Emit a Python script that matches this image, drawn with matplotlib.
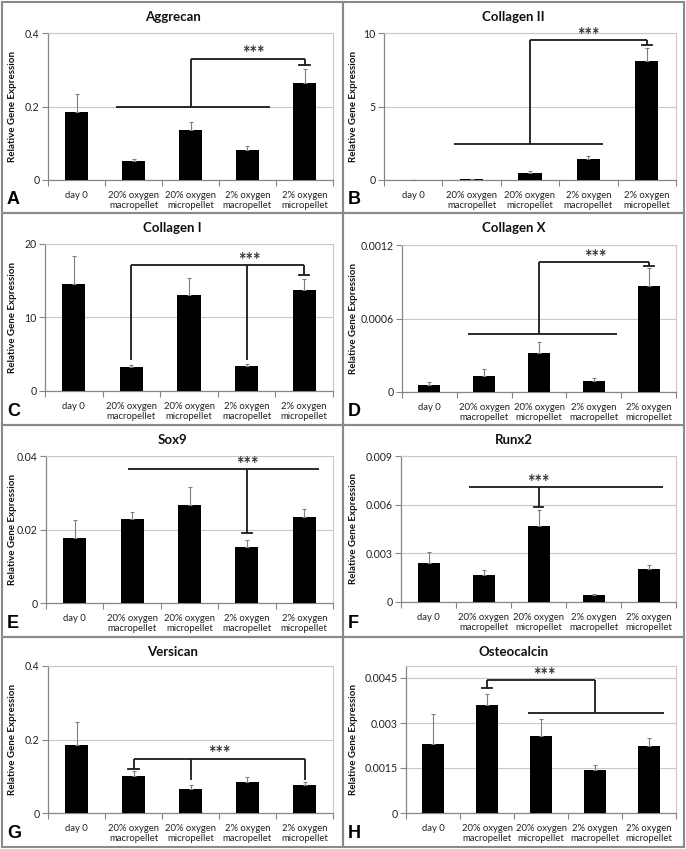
import matplotlib
matplotlib.use("Agg")
import matplotlib.pyplot as plt
from matplotlib.patches import Rectangle

plt.rcParams['font.family'] = ['Lato', 'DejaVu Sans']

W, H = 686, 849

categories = ["day 0", "20% oxygen\nmacropellet", "20% oxygen\nmicropellet",
              "2% oxygen\nmacropellet", "2% oxygen\nmicropellet"]

# gene expression means and upper error values
aggrecan = [0.184, 0.051, 0.135, 0.082, 0.263]
aggrecan_err = [0.050, 0.005, 0.022, 0.011, 0.040]
collagen2 = [0.01, 0.05, 0.45, 1.40, 8.10]
collagen2_err = [0.0, 0.0, 0.15, 0.20, 0.90]
collagen1 = [14.6, 3.27, 13.1, 3.36, 13.7]
collagen1_err = [3.7, 0.23, 2.3, 0.34, 1.6]
collagen10 = [0.00006, 0.000128, 0.00032, 0.00009, 0.000863]
collagen10_err = [0.00002, 0.000059, 0.000087, 0.000024, 0.000147]
sox9 = [0.0178, 0.0229, 0.0268, 0.0153, 0.0233]
sox9_err = [0.0049, 0.0018, 0.0049, 0.0019, 0.0024]
runx2 = [0.00243, 0.00164, 0.0047, 0.00043, 0.00203]
runx2_err = [0.00066, 0.00034, 0.00097, 0.00006, 0.00026]
versican = [0.185, 0.102, 0.065, 0.085, 0.075]
versican_err = [0.062, 0.012, 0.012, 0.014, 0.009]
osteocalcin = [0.0023, 0.00361, 0.00258, 0.00145, 0.00222]
osteocalcin_err = [0.0010, 0.00036, 0.00057, 0.00016, 0.00028]

# significance brackets: line segments (x0, y0, x1, y1), caps (x, y), star position
panels = [
    dict(title="Aggrecan", letter="A", vals=aggrecan, err=aggrecan_err,
         ylim=0.4, ticks=[0, 0.2, 0.4], labels=["0", "0.2", "0.4"],
         box=(48, 33, 333, 180),
         lines=[(0.7, 0.198, 3.4, 0.198), (2, 0.198, 2, 0.33), (2, 0.33, 4, 0.33), (4, 0.33, 4, 0.312)],
         caps=[(4, 0.312)], star=(3.1, 0.33)),
    dict(title="Collagen II", letter="B", vals=collagen2, err=collagen2_err,
         ylim=10, ticks=[0, 5, 10], labels=["0", "5", "10"],
         box=(384, 33, 676, 180),
         lines=[(0.7, 2.43, 3.25, 2.43), (2, 2.43, 2, 9.5), (2, 9.5, 4, 9.5), (4, 9.5, 4, 9.2)],
         caps=[(4, 9.2)], star=(3.0, 9.5)),
    dict(title="Collagen I", letter="C", vals=collagen1, err=collagen1_err,
         ylim=20, ticks=[0, 10, 20], labels=["0", "10", "20"],
         box=(45, 244, 333, 391),
         lines=[(1, 17.1, 4, 17.1), (1, 17.1, 1, 4.2), (3, 17.1, 3, 4.2), (4, 17.1, 4, 15.8)],
         caps=[(4, 15.8)], star=(3.05, 17.1)),
    dict(title="Collagen X", letter="D", vals=collagen10, err=collagen10_err,
         ylim=0.0012, ticks=[0, 0.0006, 0.0012], labels=["0", "0.0006", "0.0012"],
         box=(402, 245, 676, 392),
         lines=[(0.7, 0.000475, 3.42, 0.000475), (2, 0.000475, 2, 0.00106),
                (2, 0.00106, 4, 0.00106), (4, 0.00106, 4, 0.001026)],
         caps=[(4, 0.001026)], star=(3.02, 0.00106)),
    dict(title="Sox9", letter="E", vals=sox9, err=sox9_err,
         ylim=0.04, ticks=[0, 0.02, 0.04], labels=["0", "0.02", "0.04"],
         box=(46, 456, 333, 603),
         lines=[(0.92, 0.0364, 4.26, 0.0364), (3, 0.0364, 3, 0.019)],
         caps=[(3, 0.019)], star=(3.0, 0.0364)),
    dict(title="Runx2", letter="F", vals=runx2, err=runx2_err,
         ylim=0.009, ticks=[0, 0.003, 0.006, 0.009], labels=["0", "0.003", "0.006", "0.009"],
         box=(401, 456, 676, 602),
         lines=[(0.74, 0.00706, 4.27, 0.00706), (2, 0.00706, 2, 0.00583)],
         caps=[(2, 0.00583)], star=(2.0, 0.00706)),
    dict(title="Versican", letter="G", vals=versican, err=versican_err,
         ylim=0.4, ticks=[0, 0.2, 0.4], labels=["0", "0.2", "0.4"],
         box=(48, 666, 333, 813),
         lines=[(1, 0.148, 4, 0.148), (1, 0.148, 1, 0.121), (2, 0.148, 2, 0.091), (4, 0.148, 4, 0.091)],
         caps=[(1, 0.121)], star=(2.5, 0.148)),
    dict(title="Osteocalcin", letter="H", vals=osteocalcin, err=osteocalcin_err,
         ylim=0.0049, ticks=[0, 0.0015, 0.003, 0.0045], labels=["0", "0.0015", "0.003", "0.0045"],
         box=(406, 666, 676, 813),
         lines=[(1.75, 0.00333, 4.27, 0.00333), (3, 0.00333, 3, 0.00443),
                (1, 0.00443, 3, 0.00443), (1, 0.00443, 1, 0.00418)],
         caps=[(1, 0.00418)], star=(2.06, 0.00443)),
]

fig = plt.figure(figsize=(W / 100, H / 100), dpi=100)

# panel frames
col_x = [2, 343, 684]
row_y = [2, 213, 425, 637, 847]
frame = "#8a8a8a"
for i in range(4):
    for j in range(2):
        x0, x1 = col_x[j], col_x[j + 1]
        y0, y1 = row_y[i], row_y[i + 1]
        fig.patches.append(Rectangle((x0 / W, 1 - y1 / H), (x1 - x0) / W, (y1 - y0) / H,
                                     transform=fig.transFigure, fill=False,
                                     edgecolor=frame, lw=1.5))

for k, p in enumerate(panels):
    l, t, r, b = p["box"]
    ax = fig.add_axes([l / W, 1 - b / H, (r - l) / W, (b - t) / H])
    x = range(len(categories))
    ax.bar(x, p["vals"], width=0.4, color="black", zorder=3)
    ax.errorbar(x, p["vals"], yerr=[[0] * 5, p["err"]], fmt="none", ecolor="#7f7f7f",
                elinewidth=0.8, capsize=1.5, capthick=0.8, zorder=4)
    ax.set_xlim(-0.5, 4.5)
    ax.set_ylim(0, p["ylim"])
    ax.set_yticks(p["ticks"])
    ax.set_yticklabels(p["labels"], fontsize=7.6, color="#222222")
    ax.yaxis.grid(True, color="#c8c8c8", lw=0.8, zorder=0)
    ax.set_axisbelow(True)
    ax.set_xticks([-0.5, 0.5, 1.5, 2.5, 3.5, 4.5])
    ax.set_xticklabels([])
    ax.set_xticks(list(x), minor=True)
    ax.set_xticklabels(categories, minor=True, fontsize=6.8, color="#222222", linespacing=1.1)
    ax.tick_params(axis="x", which="minor", length=0, pad=8)
    ax.tick_params(axis="x", which="major", length=4, color="#868686", width=0.8)
    ax.tick_params(axis="y", length=4, color="#868686", width=0.8, pad=2)
    for s in ["left", "bottom"]:
        ax.spines[s].set_color("#868686")
        ax.spines[s].set_linewidth(0.9)
    for s in ["top", "right"]:
        ax.spines[s].set_color("#c8c8c8")
        ax.spines[s].set_linewidth(0.8)

    for (x0, y0, x1, y1) in p["lines"]:
        ax.plot([x0, x1], [y0, y1], color="#1a1a1a", lw=1.3, solid_capstyle="butt", zorder=5)
    for (cx, cy) in p["caps"]:
        ax.plot([cx - 0.09, cx + 0.09], [cy, cy], color="#1a1a1a", lw=1.3, zorder=5)
    sx, sy = p["star"]
    ax.annotate("***", (sx, sy), xytext=(0, -2.5), textcoords="offset points",
                ha="center", va="bottom", fontsize=13, fontweight="bold", color="#333333", zorder=6)

    col = k % 2
    row = k // 2
    px0, px1 = col_x[col], col_x[col + 1]
    py0, py1 = row_y[row], row_y[row + 1]
    fig.text((px0 + px1) / 2 / W, 1 - (py0 + 15) / H, p["title"], ha="center", va="center",
             fontsize=9.5, fontweight="bold", color="#111111")
    fig.text((px0 + 10.5) / W, 1 - ((t + b) / 2) / H, "Relative Gene Expression",
             rotation=90, ha="center", va="center", fontsize=7, fontweight="bold",
             color="#111111")
    fig.text((px0 + 5) / W, 1 - (py1 - 5) / H, p["letter"], ha="left", va="bottom",
             fontsize=13, fontweight="bold", family="Liberation Sans", color="black")

fig.savefig("out.png", dpi=100)
